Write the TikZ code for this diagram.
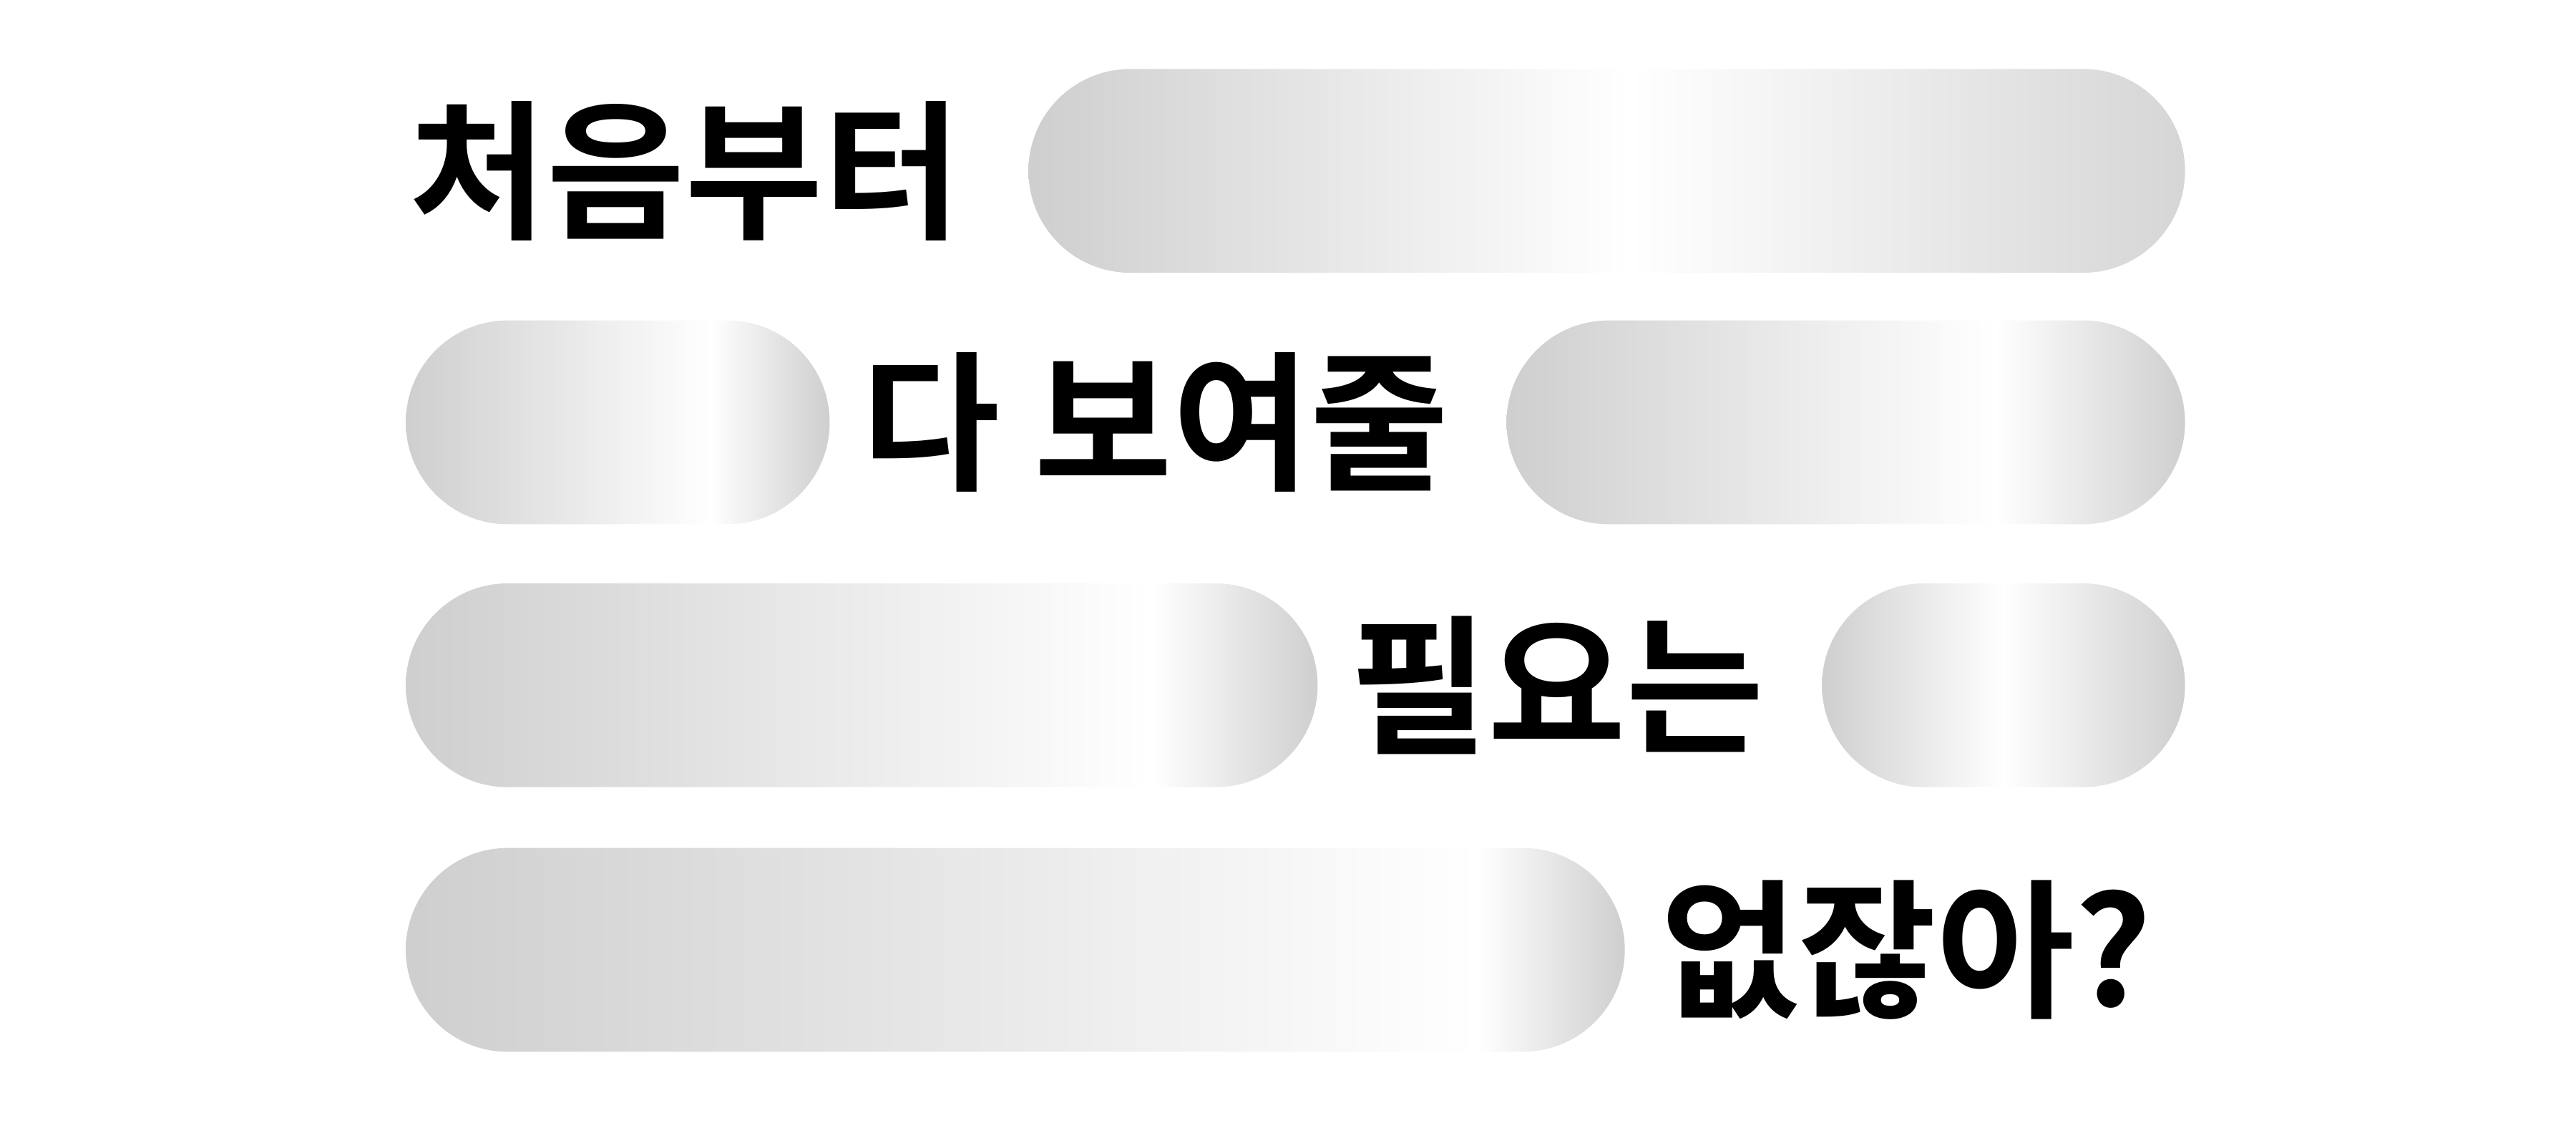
\documentclass[tikz,border=0pt]{standalone}
\usepackage{fontspec}
\newfontfamily\kr{Noto Sans CJK KR}[BoldFont={Noto Sans CJK KR Bold}]
\usepackage{tikz}

\colorlet{pillgray}{black!19}
% one shading per pill, white at a different spot
\pgfdeclarehorizontalshading{pillA}{100bp}{color(0bp)=(pillgray); color(25bp)=(pillgray); color(51bp)=(white); color(75bp)=(pillgray!85); color(100bp)=(pillgray!85)}
\pgfdeclarehorizontalshading{pillB}{100bp}{color(0bp)=(pillgray); color(25bp)=(pillgray); color(61bp)=(white); color(75bp)=(pillgray); color(100bp)=(pillgray)}
\pgfdeclarehorizontalshading{pillC}{100bp}{color(0bp)=(pillgray); color(25bp)=(pillgray); color(66bp)=(white); color(75bp)=(pillgray); color(100bp)=(pillgray)}
\pgfdeclarehorizontalshading{pillD}{100bp}{color(0bp)=(pillgray); color(25bp)=(pillgray); color(50bp)=(white); color(75bp)=(pillgray); color(100bp)=(pillgray)}
\pgfdeclarehorizontalshading{pillE}{100bp}{color(0bp)=(pillgray); color(25bp)=(pillgray); color(69bp)=(white); color(75bp)=(pillgray); color(100bp)=(pillgray)}

\tikzset{
  pill/.style={rounded corners=0.62cm},
  words/.style={anchor=west, inner sep=0pt, font=\kr\bfseries\fontsize{26}{26}\selectfont}
}

\begin{document}
\begin{tikzpicture}
\useasboundingbox (0,0) rectangle (15.68,6.97);

% pills
\shade[pill, shading=pillA] (6.26,5.31) rectangle (13.30,6.55);
\shade[pill, shading=pillB] (2.47,3.78) rectangle (5.05,5.02);
\shade[pill, shading=pillB] (9.17,3.78) rectangle (13.30,5.02);
\shade[pill, shading=pillC] (2.47,2.18) rectangle (8.02,3.42);
\shade[pill, shading=pillD] (11.09,2.18) rectangle (13.30,3.42);
\shade[pill, shading=pillE] (2.47,0.57) rectangle (9.89,1.81);

% words
\node[words] (w1) at (2.48,5.93) {처음부터};
\node[words] (w2) at (5.24,4.40) {다 보여줄};
\node[words] (w3) at (8.21,2.80) {필요는};
\node[words] (w4) at (10.10,1.19) {없잖아?};
\end{tikzpicture}
\end{document}
